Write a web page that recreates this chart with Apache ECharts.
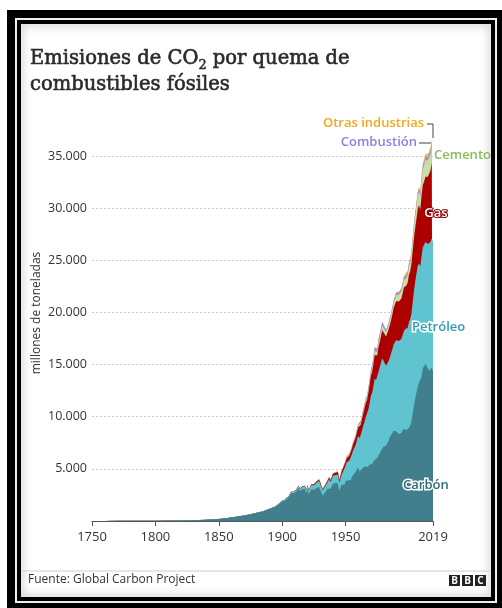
<!DOCTYPE html>
<html><head><meta charset="utf-8">
<script src="https://cdn.jsdelivr.net/npm/echarts@6/dist/echarts.min.js"></script>
<style>html,body{margin:0;padding:0;background:#fff}#c{width:502px;height:608px}</style>
</head><body><div id="c"></div>
<script>
// ---- DATA (millones de toneladas de CO2) ----
const years = [1750,1760,1770,1780,1790,1800,1810,1820,1830,1840,1850,1855,1860,1865,1870,1875,1880,1885,1890,1895,
1900,1901,1902,1903,1904,1905,1906,1907,1908,1909,1910,1911,1912,1913,1914,1915,1916,1917,1918,1919,
1920,1921,1922,1923,1924,1925,1926,1927,1928,1929,1930,1931,1932,1933,1934,1935,1936,1937,1938,1939,
1940,1941,1942,1943,1944,1945,1946,1947,1948,1949,1950,1951,1952,1953,1954,1955,1956,1957,1958,1959,
1960,1961,1962,1963,1964,1965,1966,1967,1968,1969,1970,1971,1972,1973,1974,1975,1976,1977,1978,1979,
1980,1981,1982,1983,1984,1985,1986,1987,1988,1989,1990,1991,1992,1993,1994,1995,1996,1997,1998,1999,
2000,2001,2002,2003,2004,2005,2006,2007,2008,2009,2010,2011,2012,2013,2014,2015,2016,2017,2018,2019];

const carbon = [9,10,12,15,19,28,37,51,75,115,197,265,335,430,520,640,780,920,1150,1380,
1860,1900,1930,2120,2140,2250,2420,2680,2560,2650,2750,2800,2950,3150,2880,2830,3050,3150,3080,2650,
3050,2600,2700,3050,2980,3000,2870,3150,3080,3280,3020,2720,2450,2580,2780,2870,3120,3300,3080,3250,
3550,3650,3650,3700,3600,2900,3200,3500,3650,3450,3800,3950,3900,3920,3900,4200,4400,4550,4700,4950,
5150,4750,4800,5000,5150,5250,5350,5150,5250,5400,5550,5500,5600,5850,5850,6050,6300,6500,6650,6950,
7150,7150,7250,7400,7700,8050,8200,8450,8650,8750,8600,8450,8350,8350,8450,8650,8850,8850,8700,8700,
8950,9150,9550,10350,11050,11750,12350,12950,13250,13150,13850,14650,14750,15050,15050,14650,14400,14500,14700,14350];

const petroleo = [0,0,0,0,0,0,0,0,0,0,0,0,0,1,2,3,5,10,18,30,
60,65,70,75,85,90,95,110,120,130,145,155,165,190,195,205,225,245,255,270,
320,330,350,400,410,430,450,500,520,570,550,520,490,520,550,590,640,700,690,730,
760,800,760,790,840,780,880,970,1080,1100,1500,1680,1780,1880,1980,2180,2380,2480,2600,2800,
3000,3200,3450,3700,4000,4300,4650,5000,5450,5900,6450,6800,7300,7850,7650,7550,8000,8250,8550,8650,
8300,7950,7650,7550,7650,7650,7900,8050,8300,8400,8750,8850,8900,8850,9000,9150,9350,9550,9650,9800,
10100,10200,10350,10650,11050,11250,11400,11550,11450,11250,11550,11600,11650,11700,11750,11900,12050,12250,12400,12450];

const gas = [0,0,0,0,0,0,0,0,0,0,0,0,0,0,0,0,0,2,5,8,
12,13,14,16,17,19,21,24,26,28,30,32,35,38,40,42,46,50,52,54,
60,58,66,80,90,95,105,115,125,140,135,125,115,115,125,135,150,165,160,170,
185,200,210,235,250,255,260,290,320,330,360,400,430,460,500,550,600,650,700,780,
850,910,990,1080,1170,1250,1350,1450,1580,1730,1900,2020,2120,2220,2250,2260,2380,2450,2550,2700,
2750,2780,2780,2820,3030,3130,3170,3350,3500,3640,3750,3800,3800,3850,3870,4000,4200,4170,4230,4350,
4550,4600,4750,4900,5050,5150,5250,5450,5600,5450,5850,6000,6150,6250,6300,6450,6650,6850,7250,7500];

const cemento = [0,0,0,0,0,0,0,0,0,0,0,0,0,0,0,0,0,0,0,0,
0,0,0,0,0,0,0,0,0,0,0,0,0,0,0,0,0,0,0,0,
0,0,0,0,0,0,0,0,40,40,40,35,30,32,35,40,45,48,48,50,
50,50,45,40,35,30,40,50,55,60,70,78,84,92,100,110,120,128,138,150,
160,168,178,190,205,215,230,240,255,275,290,310,330,350,350,350,370,390,410,425,
430,430,430,440,455,465,480,500,520,530,560,580,610,640,680,710,720,730,730,750,
770,800,850,930,1000,1070,1160,1230,1250,1300,1420,1530,1560,1620,1640,1560,1570,1560,1580,1620];

const combustion = [0,0,0,0,0,0,0,0,0,0,0,0,0,0,0,0,0,0,0,0,
0,0,0,0,0,0,0,0,0,0,0,0,0,0,0,0,0,0,0,0,
8,8,9,10,11,12,13,14,15,16,16,15,14,15,16,17,18,20,20,21,
22,23,22,23,25,24,28,32,36,38,85,90,92,95,95,100,110,115,115,120,
140,150,165,175,190,200,215,225,255,280,320,340,370,400,380,330,370,360,360,380,
310,250,240,230,230,220,220,230,220,230,240,250,230,240,240,250,260,270,260,260,
270,270,280,290,300,300,300,300,290,280,290,300,310,310,320,340,350,370,410,430];

const otras = [0,0,0,0,0,0,0,0,0,0,0,0,0,0,0,0,0,0,0,0,
0,0,0,0,0,0,0,0,0,0,0,0,0,0,0,0,0,0,0,0,
0,0,0,0,0,0,0,0,0,0,0,0,0,0,0,0,0,0,0,0,
0,0,0,0,0,0,0,0,0,0,0,0,0,0,0,0,0,0,0,0,
0,0,0,0,0,0,0,0,0,0,0,0,0,0,0,0,0,0,0,0,
0,0,0,0,0,0,0,0,0,0,90,92,95,98,102,108,112,118,120,125,
130,135,145,160,175,190,205,215,220,215,240,255,265,275,280,285,290,295,300,305];

const xTicks = [1750,1800,1850,1900,1950,2019];
const yMax = 35000, yStep = 5000;

// ---- CHART ----
const layers = [
  {name:'Carbón', values:carbon, color:'#427f8c'},
  {name:'Petróleo', values:petroleo, color:'#60c3d0'},
  {name:'Gas', values:gas, color:'#ad0000'},
  {name:'Cemento', values:cemento, color:'#c9dfa6'},
  {name:'Combustión', values:combustion, color:'#9d90e2'},
  {name:'Otras industrias', values:otras, color:'#f4b63f'}
];
// cumulative tops (stack), drawn from the top layer down so lower layers paint over
const running = years.map(()=>0);
const stacked = layers.map(l => {
  const tops = l.values.map((v,i)=> (running[i] += v));
  return {name:l.name, color:l.color, data: years.map((y,i)=>[y, tops[i]])};
});
const series = stacked.slice().reverse().map(s => ({
  name:s.name, type:'line', data:s.data, showSymbol:false, symbol:'none', clip:false,
  lineStyle:{width:0}, areaStyle:{color:s.color, opacity:1, origin:'start'}, itemStyle:{color:s.color},
  silent:true, animation:false
}));

const chart = echarts.init(document.getElementById('c'), null, {renderer:'canvas'});
const sans = '"Open Sans", "Noto Sans", sans-serif';
const labelTxt = (x,y,text,style) => ({type:'text', z:100, x, y,
  style:Object.assign({text, font:'600 13px ' + sans, textVerticalAlign:'middle'}, style)});
const serif = '"DejaVu Serif", serif';

chart.setOption({
  animation:false,
  title:{
    text:'Emisiones de CO{sub|2} por quema de\ncombustibles fósiles',
    left:30, top:46, padding:0,
    textStyle:{fontFamily:serif, fontSize:19.5, fontWeight:'normal', color:'#2a2a2a', lineHeight:26,
      textBorderColor:'#2a2a2a', textBorderWidth:0.6,
      rich:{sub:{fontFamily:serif, fontSize:13, color:'#2a2a2a', verticalAlign:'bottom', lineHeight:13,
        textBorderColor:'#2a2a2a', textBorderWidth:0.5}}}
  },
  grid:{left:92, right:69, top:156, bottom:87},
  xAxis:{type:'value', min:1750, max:2019,
    axisLine:{show:true, lineStyle:{color:'#555', width:1}},
    axisTick:{show:true, customValues:xTicks, length:5, lineStyle:{color:'#555'}},
    axisLabel:{customValues:xTicks, color:'#333', fontSize:13, fontFamily:sans, margin:10, formatter:v=>String(v)},
    splitLine:{show:false}},
  yAxis:{type:'value', min:0, max:yMax, interval:yStep,
    axisLine:{show:false}, axisTick:{show:false},
    axisLabel:{color:'#333', fontSize:12.5, fontFamily:sans, margin:5,
      formatter:v=> v===0 ? '' : (v/1000)+'.000'},
    splitLine:{show:true, lineStyle:{color:'#c8c8c8', type:[2,2], width:1}}},
  series:series,
  graphic:{elements:[
    // frame
    {type:'rect', z:-10, shape:{x:7,y:10,width:495,height:598}, style:{fill:'#000'}},
    {type:'rect', z:-10, shape:{x:15,y:18,width:482,height:585}, style:{fill:'#fff'}},
    {type:'rect', z:-10, shape:{x:17,y:20,width:478,height:581}, style:{fill:'#000'}},
    {type:'rect', z:-10, shape:{x:21,y:24,width:470,height:573}, style:{fill:'#fff'}},
    {type:'rect', z:-9, shape:{x:20,y:23,width:472,height:575}, style:{fill:'none', stroke:'#000', lineWidth:2, shadowBlur:10, shadowColor:'rgba(0,0,0,0.55)'}},
    // y-axis name
    {type:'text', z:100, x:37, y:313, rotation:Math.PI/2,
      style:{text:'millones de toneladas', font:'12px ' + sans, fill:'#333', textAlign:'center', textVerticalAlign:'middle'}},
    // series labels
    labelTxt(424,123,'Otras industrias',{fill:'#f2a81d', textAlign:'right'}),
    {type:'polyline', z:100, shape:{points:[[427,124],[433,124],[433,138]]}, style:{stroke:'#444', lineWidth:1, fill:'none'}},
    labelTxt(417,142,'Combustión',{fill:'#8f80dc', textAlign:'right'}),
    {type:'line', z:100, shape:{x1:419,y1:143,x2:431,y2:143}, style:{stroke:'#444', lineWidth:1}},
    labelTxt(434,155,'Cemento',{fill:'#85bd5a', textAlign:'left'}),
    labelTxt(436,213,'Gas',{fill:'#fff', textAlign:'center', stroke:'#8a0000', lineWidth:2}),
    labelTxt(412,327,'Petróleo',{fill:'#2a9db4', textAlign:'left', stroke:'#fff', lineWidth:3}),
    labelTxt(403,485,'Carbón',{fill:'#2d6b78', textAlign:'left', stroke:'#fff', lineWidth:3}),
    // footer
    {type:'line', z:100, shape:{x1:22,y1:571,x2:490,y2:571}, style:{stroke:'#cfcfcf', lineWidth:1}},
    {type:'text', z:100, x:28, y:580, style:{text:'Fuente: Global Carbon Project', font:'12px ' + sans, fill:'#333', textVerticalAlign:'middle'}},
    {type:'rect', z:100, shape:{x:449,y:575,width:11,height:11}, style:{fill:'#222'}},
    {type:'rect', z:100, shape:{x:462,y:575,width:11,height:11}, style:{fill:'#222'}},
    {type:'rect', z:100, shape:{x:475,y:575,width:11,height:11}, style:{fill:'#222'}},
    {type:'text', z:101, x:454.5, y:581, style:{text:'B', font:'bold 10px ' + sans, fill:'#fff', textAlign:'center', textVerticalAlign:'middle'}},
    {type:'text', z:101, x:467.5, y:581, style:{text:'B', font:'bold 10px ' + sans, fill:'#fff', textAlign:'center', textVerticalAlign:'middle'}},
    {type:'text', z:101, x:480.5, y:581, style:{text:'C', font:'bold 10px ' + sans, fill:'#fff', textAlign:'center', textVerticalAlign:'middle'}}
  ]}
});
</script></body></html>
